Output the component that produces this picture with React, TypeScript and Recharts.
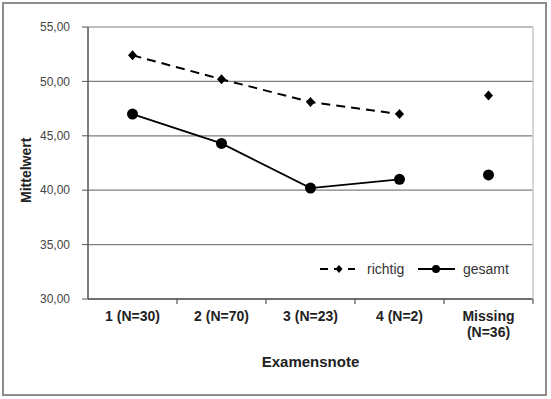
import React from 'react';
import { LineChart, Line, XAxis, YAxis, CartesianGrid } from 'recharts';

const categories = ['1 (N=30)', '2 (N=70)', '3 (N=23)', '4 (N=2)', 'Missing (N=36)'];
const richtig = [52.4, 50.2, 48.1, 47.0, null];
const gesamt = [47.0, 44.3, 40.2, 41.0, null];
// the Missing group is drawn as loose points, not joined to the lines
const richtigMissing = [null, null, null, null, 48.7];
const gesamtMissing = [null, null, null, null, 41.4];
const yTicks = [30, 35, 40, 45, 50, 55];

const data = categories.map((name, i) => ({
  name,
  richtig: richtig[i],
  gesamt: gesamt[i],
  richtigMissing: richtigMissing[i],
  gesamtMissing: gesamtMissing[i],
}));

const W = 551;
const H = 399;
const LEFT = 88;
const RIGHT = 18;
const TOP = 27;
const XAXIS_H = 100;
const BAND = (W - LEFT - RIGHT) / categories.length;

const FONT = '"Liberation Sans", Arial, sans-serif';

const fmt = (v: number) => v.toFixed(2).replace('.', ',');

function Diamond(props: any) {
  const { cx, cy } = props;
  if (cx == null || cy == null) return null;
  return <path d={`M${cx},${cy - 5}L${cx + 4.5},${cy}L${cx},${cy + 5}L${cx - 4.5},${cy}Z`} fill="#000" />;
}

function Dot(props: any) {
  const { cx, cy } = props;
  if (cx == null || cy == null) return null;
  return <circle cx={cx} cy={cy} r={5.5} fill="#000" />;
}

function XTick(props: any) {
  const { x, y, payload } = props;
  const lines = String(payload.value).startsWith('Missing') ? ['Missing', '(N=36)'] : [payload.value];
  return (
    <g>
      <line x1={x + BAND / 2} x2={x + BAND / 2} y1={y - 8} y2={y - 3} stroke="#555" strokeWidth={1.2} />
      <text x={x} y={y + 14} textAnchor="middle" fontFamily={FONT} fontSize={14} fontWeight="bold" fill="#222">
        {lines.map((l, i) => (
          <tspan key={i} x={x} dy={i === 0 ? 0 : 16}>{l}</tspan>
        ))}
      </text>
    </g>
  );
}

function LegendBox() {
  return (
    <svg width={200} height={24} style={{ position: 'absolute', left: 318, top: 257 }}>
      <line x1={2} x2={37} y1={12} y2={12} stroke="#000" strokeWidth={2} strokeDasharray="8 6" />
      <path d="M21,8L24.5,12L21,16L17.5,12Z" fill="#000" />
      <text x={49} y={17} fontFamily={FONT} fontSize={14} fill="#333">richtig</text>
      <line x1={100} x2={137} y1={12} y2={12} stroke="#000" strokeWidth={1.8} />
      <circle cx={118} cy={12} r={4} fill="#000" />
      <text x={145} y={17} fontFamily={FONT} fontSize={14} fill="#333">gesamt</text>
    </svg>
  );
}

export default function App() {
  return (
    <div style={{ position: 'absolute', left: 0, top: 0, width: W, height: H, background: '#fff' }}>
      <div
        style={{
          position: 'absolute', left: 2, top: 2, width: 545, height: 394,
          border: '2px solid #8c8c8c', boxSizing: 'border-box',
        }}
      />
      <div style={{ position: 'absolute', left: 0, top: 0 }}>
        <LineChart width={W} height={H} data={data} margin={{ top: TOP, right: 0, bottom: 0, left: 0 }}>
          <CartesianGrid vertical={false} stroke="#7f7f7f" strokeWidth={1.2} />
          <XAxis
            dataKey="name"
            height={XAXIS_H}
            padding={{ left: BAND / 2, right: BAND / 2 }}
            axisLine={{ stroke: '#555', strokeWidth: 1.5 }}
            tickLine={false}
            tick={<XTick />}
            interval={0}
            label={{
              value: 'Examensnote', position: 'insideBottom', offset: 32,
              style: { fontFamily: FONT, fontSize: 15, fontWeight: 'bold', fill: '#222' },
            }}
          />
          <YAxis
            width={LEFT}
            domain={[30, 55]}
            ticks={yTicks}
            tickFormatter={fmt}
            axisLine={{ stroke: '#555', strokeWidth: 1.5 }}
            tickLine={{ stroke: '#555' }}
            tickSize={6}
            tickMargin={12}
            tick={{ fontFamily: FONT, fontSize: 12, fill: '#444' }}
            label={{
              value: 'Mittelwert', angle: -90, position: 'insideLeft', offset: 26, dy: 40,
              style: { fontFamily: FONT, fontSize: 14, fontWeight: 'bold', fill: '#222' },
            }}
          />
          <YAxis
            yAxisId="right"
            orientation="right"
            width={RIGHT}
            domain={[30, 55]}
            tick={false}
            tickLine={false}
            axisLine={{ stroke: '#c8c8c8', strokeWidth: 1.5 }}
          />
          <Line
            dataKey="richtig"
            stroke="#000"
            strokeWidth={2}
            strokeDasharray="9 6"
            dot={<Diamond />}
            activeDot={false}
            isAnimationActive={false}
          />
          <Line
            dataKey="gesamt"
            stroke="#000"
            strokeWidth={1.8}
            dot={<Dot />}
            activeDot={false}
            isAnimationActive={false}
          />
          <Line
            dataKey="richtigMissing"
            stroke="none"
            dot={<Diamond />}
            activeDot={false}
            legendType="none"
            isAnimationActive={false}
          />
          <Line
            dataKey="gesamtMissing"
            stroke="none"
            dot={<Dot />}
            activeDot={false}
            legendType="none"
            isAnimationActive={false}
          />
        </LineChart>
      </div>
      <LegendBox />
    </div>
  );
}
